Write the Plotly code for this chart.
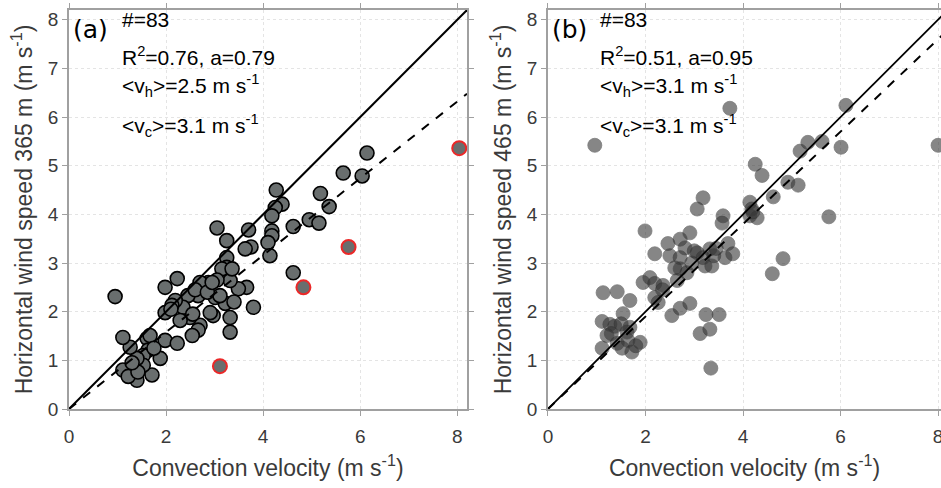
import plotly.graph_objects as go

# ---------------- data ----------------
# Panel (a): 365 m
a_x = [6.14, 5.65, 6.04, 5.18, 5.36, 4.95, 5.15, 4.62, 4.27, 4.39, 4.25, 4.18, 4.18, 4.18, 4.10,
       3.05, 3.25, 3.70, 3.75, 3.63,
       0.95, 3.25, 4.14, 4.62, 3.80, 3.66, 3.49, 3.32, 3.32, 3.32, 3.25, 3.15, 3.36, 3.22,
       2.97, 2.91, 3.01, 3.11, 3.05, 2.87, 2.76, 2.70, 2.66, 2.70, 2.66, 2.54, 2.49, 2.45,
       2.35, 2.29, 2.23, 2.19, 2.12, 1.98, 1.98, 1.98, 2.23, 1.88, 1.71, 1.61, 1.67, 1.63,
       1.53, 1.53, 1.40, 1.40, 1.26, 1.11, 1.11, 1.22, 1.42,
       2.60, 2.85, 2.55, 1.75, 1.30, 2.10, 3.40, 2.95]
a_y = [5.26, 4.85, 4.79, 4.43, 4.16, 3.89, 3.82, 3.75, 4.50, 4.21, 4.14, 3.97, 3.66, 3.56, 3.42,
       3.72, 3.46, 3.68, 3.33, 3.29,
       2.31, 3.11, 3.15, 2.80, 2.09, 2.50, 2.47, 2.64, 1.88, 1.58, 2.91, 2.88, 2.88, 2.17,
       1.92, 1.98, 2.29, 2.33, 2.65, 2.60, 2.57, 2.60, 2.33, 1.72, 1.62, 1.51, 1.88, 2.33,
       2.09, 1.82, 2.68, 2.23, 2.13, 2.50, 1.98, 1.41, 1.35, 1.04, 0.70, 1.45, 1.51, 1.21,
       1.10, 0.90, 1.04, 0.59, 1.27, 1.47, 0.80, 0.67, 0.76,
       2.45, 2.40, 1.95, 1.25, 0.95, 2.05, 2.20, 2.60]
# outliers (red-edged) in panel (a)
a_out_x = [8.04, 5.76, 4.83, 3.11]
a_out_y = [5.36, 3.33, 2.50, 0.88]

# Panel (b): 465 m
b_x = [0.96, 3.73, 6.11, 5.17, 5.33, 5.62, 6.01, 8.00, 4.25, 4.39, 4.92, 5.13, 4.62, 5.76,
       4.14, 4.18, 4.14, 4.29, 3.18, 3.06, 3.59, 3.57, 1.99, 2.46, 2.71, 2.91, 3.69,
       2.19, 2.50, 2.81, 2.71, 2.71, 2.85, 2.65, 3.06, 3.18, 3.22, 3.36, 3.32, 3.63, 3.79,
       4.60, 4.82, 1.95, 2.09, 2.19, 2.36, 2.19, 2.26, 2.54, 2.71, 2.91, 3.24, 3.51, 3.12,
       3.32, 3.34, 1.13, 1.42, 1.68, 1.54, 1.11, 1.27, 1.37, 1.68, 1.62, 1.21, 1.42, 1.64,
       1.89, 1.11, 1.52, 1.72,
       2.95, 3.00, 3.40, 2.60, 1.30, 1.80, 2.35, 3.45, 1.50, 4.20]
b_y = [5.42, 6.18, 6.24, 5.30, 5.48, 5.50, 5.38, 5.42, 5.03, 4.80, 4.66, 4.60, 4.36, 3.95,
       4.25, 4.11, 3.97, 3.93, 4.34, 4.11, 3.97, 3.82, 3.66, 3.40, 3.49, 3.62, 3.40,
       3.19, 3.15, 3.31, 3.11, 2.88, 2.80, 2.64, 3.21, 3.11, 2.94, 2.94, 3.29, 3.11, 3.19,
       2.78, 3.09, 2.60, 2.70, 2.58, 2.54, 2.29, 2.19, 1.92, 2.07, 2.17, 1.94, 1.94, 1.55,
       1.64, 0.84, 2.39, 2.41, 2.23, 1.96, 1.80, 1.74, 1.70, 1.68, 1.58, 1.51, 1.35, 1.41,
       1.37, 1.25, 1.25, 1.17,
       3.00, 3.25, 3.15, 2.90, 1.55, 1.30, 2.45, 3.30, 1.75, 4.05]

fit_a = 0.79
fit_b = 0.95
line_x = [0, 8.2]

x_ticks = [0, 2, 4, 6, 8]
y_ticks = [0, 1, 2, 3, 4, 5, 6, 7, 8]

texts_a = ["#=83", "R<sup>2</sup>=0.76, a=0.79",
           "&lt;v<sub>h</sub>&gt;=2.5 m s<sup>-1</sup>",
           "&lt;v<sub>c</sub>&gt;=3.1 m s<sup>-1</sup>"]
texts_b = ["#=83", "R<sup>2</sup>=0.51, a=0.95",
           "&lt;v<sub>h</sub>&gt;=3.1 m s<sup>-1</sup>",
           "&lt;v<sub>c</sub>&gt;=3.1 m s<sup>-1</sup>"]

# ---------------- figure ----------------
fig = go.Figure()

grey_fill = "rgb(105,110,110)"

fig.add_trace(go.Scatter(x=a_x, y=a_y, mode="markers", xaxis="x", yaxis="y",
                         marker=dict(size=14, color=grey_fill,
                                     line=dict(color="black", width=1.6)),
                         showlegend=False))
fig.add_trace(go.Scatter(x=a_out_x, y=a_out_y, mode="markers", xaxis="x", yaxis="y",
                         marker=dict(size=14, color=grey_fill,
                                     line=dict(color="rgb(235,40,40)", width=2)),
                         showlegend=False))
fig.add_trace(go.Scatter(x=line_x, y=line_x, mode="lines", xaxis="x", yaxis="y",
                         line=dict(color="black", width=2), showlegend=False))
fig.add_trace(go.Scatter(x=line_x, y=[v * fit_a for v in line_x], mode="lines",
                         xaxis="x", yaxis="y",
                         line=dict(color="black", width=2, dash="dash"), showlegend=False))

fig.add_trace(go.Scatter(x=b_x, y=b_y, mode="markers", xaxis="x2", yaxis="y2",
                         marker=dict(size=14, color="rgb(55,55,55)", opacity=0.6,
                                     line=dict(color="rgb(40,40,40)", width=0.8)),
                         showlegend=False))
fig.add_trace(go.Scatter(x=line_x, y=line_x, mode="lines", xaxis="x2", yaxis="y2",
                         line=dict(color="black", width=1.8), showlegend=False))
fig.add_trace(go.Scatter(x=line_x, y=[v * fit_b for v in line_x], mode="lines",
                         xaxis="x2", yaxis="y2",
                         line=dict(color="black", width=2, dash="dash"), showlegend=False))

tick_font = dict(family="Liberation Sans, Arial", size=19, color="#3a3a3a")
title_font = dict(family="Liberation Sans, Arial", size=23, color="#3a3a3a")

common_x = dict(tickvals=x_ticks, showgrid=True, gridcolor="rgb(228,228,228)",
                griddash="dot", gridwidth=1, zeroline=False, showline=True,
                linecolor="rgb(160,160,160)", linewidth=1.5, mirror="ticks",
                ticks="outside", ticklen=5, tickcolor="rgb(160,160,160)",
                tickfont=tick_font, title_font=title_font, title_standoff=14,
                ticklabelstandoff=4, automargin=False, ticklabeloverflow="allow")
common_y = dict(tickvals=y_ticks, range=[0, 8.2], showgrid=True,
                gridcolor="rgb(228,228,228)", griddash="dot", gridwidth=1,
                zeroline=False, showline=True, linecolor="rgb(160,160,160)",
                linewidth=1.5, mirror="ticks", ticks="outside", ticklen=5,
                tickcolor="rgb(160,160,160)", tickfont=tick_font,
                title_font=title_font, title_standoff=9, automargin=False)

fig.update_layout(
    width=941, height=488,
    margin=dict(l=69, r=0, t=10, b=79),
    paper_bgcolor="white", plot_bgcolor="white",
    xaxis=dict(domain=[0, 0.4564], range=[0, 8.2],
               title_text="Convection velocity (m s<sup>-1</sup>)", **common_x),
    yaxis=dict(anchor="x", title_text="Horizontal wind speed 365 m (m s<sup>-1</sup>)",
               **common_y),
    xaxis2=dict(domain=[0.5493, 1], range=[0, 8.06], anchor="y2",
                title_text="Convection velocity (m s<sup>-1</sup>)", **common_x),
    yaxis2=dict(anchor="x2", title_text="Horizontal wind speed 465 m (m s<sup>-1</sup>)",
                **common_y),
)

ann_font = dict(family="Liberation Sans, Arial", size=21, color="black")
label_font = dict(family="DejaVu Sans", size=25, color="black")

for xr, yr, lab, texts in [("x domain", "y domain", "(a)", texts_a),
                           ("x2 domain", "y2 domain", "(b)", texts_b)]:
    fig.add_annotation(xref=xr, yref=yr, x=0.006, y=0.95, xanchor="left",
                       yanchor="middle", text=lab, showarrow=False, font=label_font)
    ys = [0.975, 0.885, 0.81, 0.71]
    for t, yy in zip(texts, ys):
        fig.add_annotation(xref=xr, yref=yr, x=0.128, y=yy, xanchor="left",
                           yanchor="middle", text=t, showarrow=False, font=ann_font)

fig.write_html("out.html")
